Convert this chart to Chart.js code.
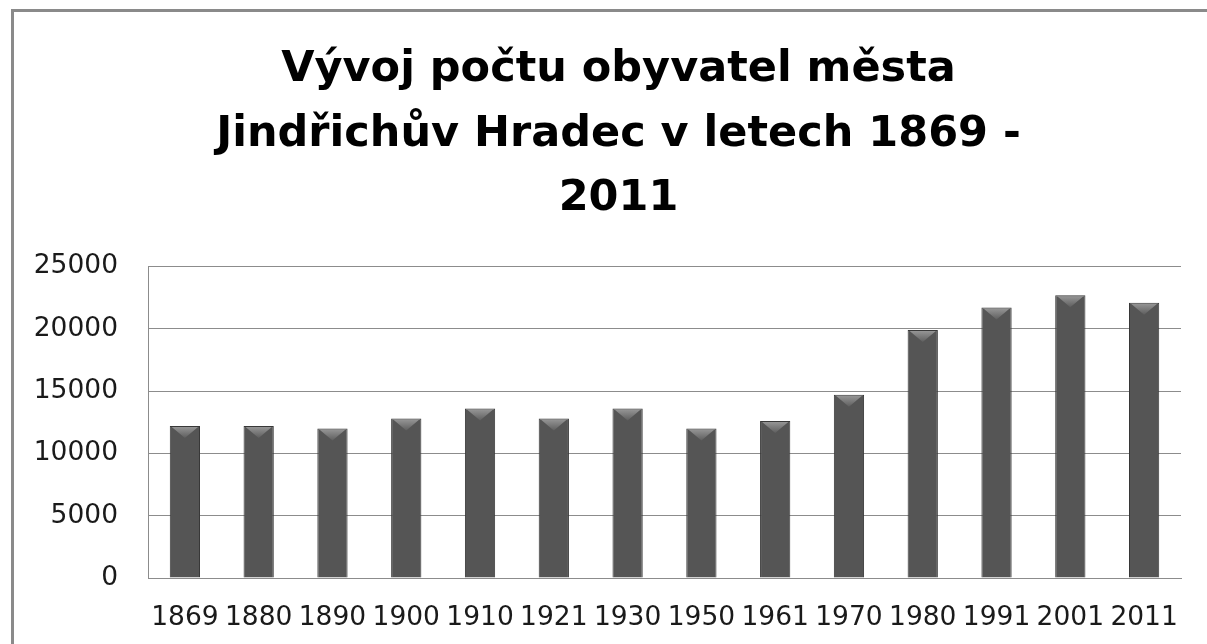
<!DOCTYPE html>
<html>
<head>
<meta charset="utf-8">
<script src="https://cdn.jsdelivr.net/npm/chart.js@4/dist/chart.umd.min.js"></script>
<style>
    html, body { margin: 0; padding: 0; background: #fff; overflow: hidden; }
    .frame {
        position: absolute; left: 11px; top: 9px;
        width: 1300px; height: 700px;
        border: 3px solid #8a8a8a;
    }
    .wrap { position: absolute; left: 0; top: 0; width: 1207px; height: 644px; }
</style>
</head>
<body>
<div class="frame"></div>
<div class="wrap"><canvas id="popChart"></canvas></div>
<script>
const years = ["1869", "1880", "1890", "1900", "1910", "1921", "1930", "1950", "1961", "1970", "1980", "1991", "2001", "2011"];
const population = [12200, 12200, 12000, 12800, 13600, 12800, 13600, 12000, 12600, 14700, 19900, 21700, 22700, 22100];
const titleLines = ["Vývoj počtu obyvatel města", "Jindřichův Hradec v letech 1869 -", "2011"];
const yMax = 25000;
const yStep = 5000;

// horizontal gradient for the rounded-bar look
function barFill(context) {
    const bar = context.element;
    const c = context.chart.ctx;
    if (!bar || bar.width === undefined || isNaN(bar.x)) return "#555";
    const left = bar.x - bar.width / 2;
    const g = c.createLinearGradient(left, 0, left + bar.width, 0);
    g.addColorStop(0, "#3a3a3a");
    g.addColorStop(0.3, "#5c5c5c");
    g.addColorStop(0.55, "#646464");
    g.addColorStop(1, "#3c3c3c");
    return g;
}

// small lighter bevel on the top of every bar
const bevelPlugin = {
    id: "bevel",
    afterDatasetsDraw(chart) {
        const c = chart.ctx;
        chart.getDatasetMeta(0).data.forEach(bar => {
            const w = bar.width;
            const left = bar.x - w / 2;
            const top = bar.y;
            c.save();
            const g = c.createLinearGradient(0, top, 0, top + 12);
            g.addColorStop(0, "#9a9a9a");
            g.addColorStop(1, "#5e5e5e");
            c.fillStyle = g;
            c.beginPath();
            c.moveTo(left + 2, top + 1);
            c.lineTo(left + w - 2, top + 1);
            c.lineTo(bar.x, top + 12);
            c.closePath();
            c.fill();
            c.restore();
        });
    }
};

document.addEventListener("DOMContentLoaded", function () {
    const ctx = document.getElementById("popChart");
    const tickFont = { family: "'DejaVu Sans'", size: 26.5 };

    new Chart(ctx, {
        type: "bar",
        data: {
            labels: years,
            datasets: [{
                data: population,
                backgroundColor: barFill,
                borderColor: "#383838",
                borderWidth: 1,
                barPercentage: 0.41,
                categoryPercentage: 1.0
            }]
        },
        options: {
            responsive: true,
            maintainAspectRatio: false,
            animation: false,
            layout: {
                padding: { left: 30, right: 0, top: 0, bottom: 0 }
            },
            plugins: {
                legend: { display: false },
                tooltip: { enabled: false },
                title: {
                    display: true,
                    text: titleLines,
                    color: "#000",
                    font: { family: "'DejaVu Sans'", size: 43, weight: "bold", lineHeight: 1.5 },
                    padding: { top: 38, bottom: 35 }
                }
            },
            scales: {
                x: {
                    afterFit: scale => { scale.height = 66; },
                    grid: { display: false, drawTicks: false },
                    border: { display: true, color: "#8c8c8c", width: 1 },
                    ticks: {
                        color: "#1a1a1a",
                        font: tickFont,
                        padding: 24,
                        maxRotation: 0,
                        autoSkip: false
                    }
                },
                y: {
                    min: 0,
                    max: yMax,
                    afterFit: scale => { scale.width = 118; },
                    grid: { color: "#8c8c8c", lineWidth: 1, drawTicks: false },
                    border: { display: true, color: "#8c8c8c", width: 1 },
                    ticks: {
                        stepSize: yStep,
                        color: "#1a1a1a",
                        font: tickFont,
                        padding: 30,
                        callback: value => String(value)
                    }
                },
                // empty spacer on the right so the title sits where it does in the original
                spacer: {
                    type: "linear",
                    position: "right",
                    afterFit: scale => { scale.width = 26; },
                    grid: { display: false },
                    border: { display: false },
                    ticks: { display: false }
                }
            }
        },
        plugins: [bevelPlugin]
    });
});
</script>
</body>
</html>
